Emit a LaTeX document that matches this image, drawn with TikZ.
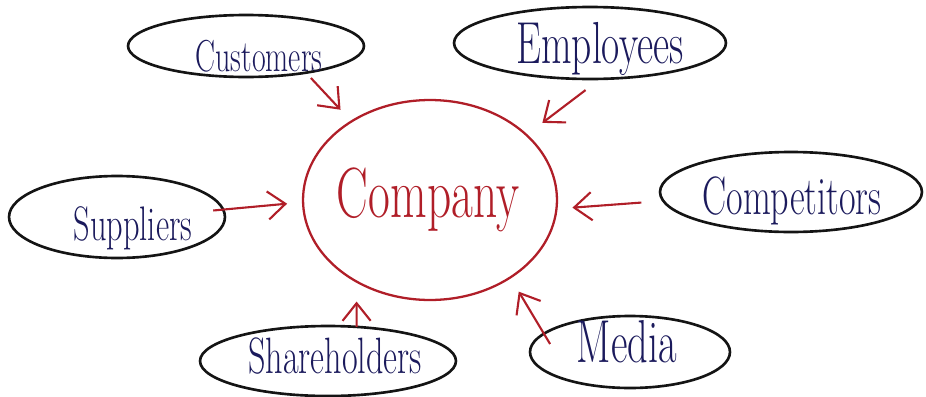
\documentclass[tikz,border=0pt]{standalone}
\usetikzlibrary{arrows.meta,shapes.geometric}
\definecolor{ink}{HTML}{1B1A5C}
\definecolor{marker}{HTML}{B01E28}
% tall, hand-lettered proportions for the labels
\newcommand{\tallword}[1]{\scalebox{1}[1.5]{#1}}
\begin{document}
\begin{tikzpicture}[x=0.02cm,y=-0.02cm,
  bubble/.style={draw=black!92,line width=1.5pt,ellipse,inner sep=0pt,outer sep=0pt},
  word/.style={text=ink,anchor=base,inner sep=0pt},
  hub/.style={draw=marker,line width=1.3pt,ellipse,inner sep=0pt,outer sep=0pt,
    minimum width=5.08cm,minimum height=4cm},
  feed/.style={draw=marker,line width=1.2pt,-{Straight Barb[length=10pt,width=16pt]}}]
\useasboundingbox (0,0) rectangle (926,396);

% central company bubble
\node[hub] (comp) at (430,200) {};
\node[word,text=marker,font=\fontsize{27}{27}\selectfont] (comptxt) at (428,217) {\tallword{Company}};

% stakeholder bubbles
\node[bubble,minimum width=4.72cm,minimum height=1.24cm] (cust) at (246,46) {};
\node[word,font=\fontsize{17}{17}\selectfont] (custtxt) at (259,71) {\tallword{Customers}};

\node[bubble,minimum width=5.44cm,minimum height=1.44cm] (empl) at (590,43) {};
\node[word,font=\fontsize{22.5}{22.5}\selectfont] (empltxt) at (600,63) {\tallword{Employees}};

\node[bubble,minimum width=5.24cm,minimum height=1.6cm] (compt) at (791,192) {};
\node[word,font=\fontsize{20.5}{20.5}\selectfont] (compttxt) at (792,214) {\tallword{Competitors}};

\node[bubble,minimum width=4.32cm,minimum height=1.64cm] (suppl) at (117,217) {};
\node[word,font=\fontsize{18.4}{18.4}\selectfont] (suppltxt) at (133,240) {\tallword{Suppliers}};

\node[bubble,minimum width=5.12cm,minimum height=1.4cm] (share) at (328,361) {};
\node[word,font=\fontsize{19.4}{19.4}\selectfont] (sharetxt) at (335,373) {\tallword{Shareholders}};

\node[bubble,minimum width=4cm,minimum height=1.44cm] (media) at (630,352) {};
\node[word,font=\fontsize{23}{23}\selectfont] (mediatxt) at (627,362) {\tallword{Media}};

% influences pointing at the company
\draw[feed,shorten <=0.145cm,shorten >=0.32cm] (cust.-24.3) -- (comp.135.3);
\draw[feed,shorten <=0.37cm,shorten >=0.4cm] (empl.-74.5) -- (comp.34.5);
\draw[feed,shorten <=0.44cm,shorten >=0.32cm] (compt.184.2) -- (comp.-4.1);
\draw[feed,shorten <=-0.2cm,shorten >=0.32cm] (suppl.4.15) -- (comp.181.8);
\draw[feed,shorten >=0.4cm] (share.50.7) -- (comp.-132.3);
\draw[feed,shorten <=-0.24cm,shorten >=0.33cm] (media.168.9) -- (comp.-44.2);
\end{tikzpicture}
\end{document}
